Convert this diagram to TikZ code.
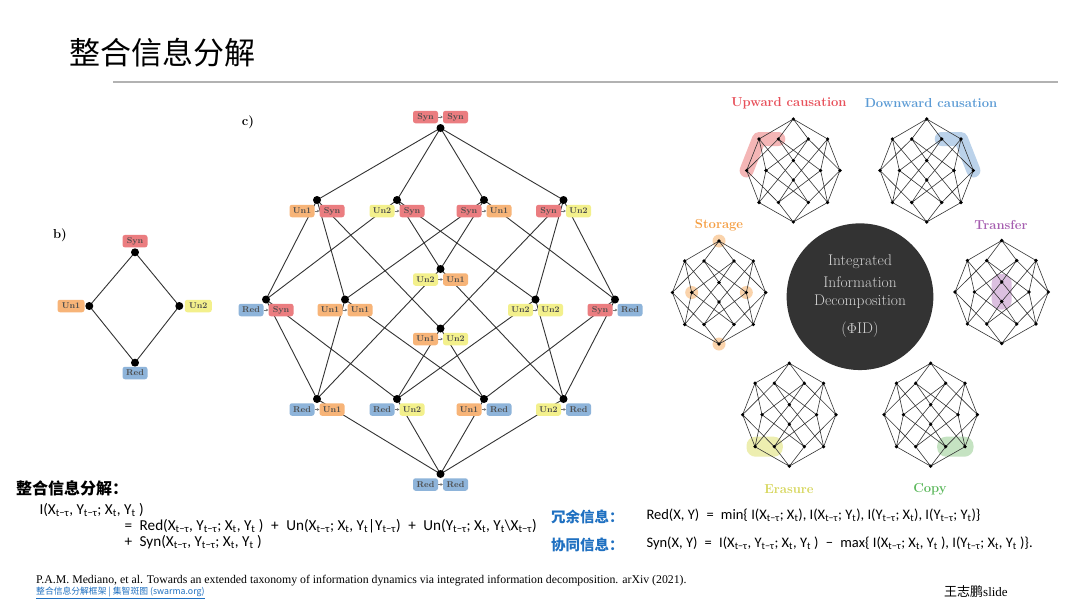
\documentclass[tikz,border=0pt]{standalone}
\usepackage{fontspec}
\usetikzlibrary{arrows.meta,calc}
\newfontfamily\cjk{Noto Sans CJK SC}
\newfontfamily\fml{Carlito}
\newfontfamily\tnr{Liberation Serif}
\definecolor{synC}{HTML}{EB7D80}
\definecolor{unaC}{HTML}{F7B478}
\definecolor{unbC}{HTML}{F3F08C}
\definecolor{redC}{HTML}{8EB4DA}
\definecolor{upC}{HTML}{E8505A}
\definecolor{dnC}{HTML}{5B9BD5}
\definecolor{stC}{HTML}{F59E42}
\definecolor{trC}{HTML}{A65EB0}
\definecolor{erC}{HTML}{D6D65A}
\definecolor{cpC}{HTML}{5CB85C}
\definecolor{hlUp}{HTML}{F4B6B6}
\definecolor{hlDn}{HTML}{BBD2EA}
\definecolor{hlSt}{HTML}{FAD3AB}
\definecolor{hlTr}{HTML}{DCC0E0}
\definecolor{hlEr}{HTML}{EDEEB0}
\definecolor{hlCp}{HTML}{C5E3C2}
\definecolor{cnBlue}{HTML}{1F70C1}
\newcommand\sub[1]{\textsubscript{#1}}
\tikzset{
  edge/.style={draw=black!80, line width=0.9pt},
  sedge/.style={draw=black!80, line width=0.6pt},
  bdot/.style={circle, fill=black, inner sep=0pt, minimum size=8pt},
  sdot/.style={circle, fill=black, inner sep=0pt, minimum size=3.6pt},
  pbox/.style={rounded corners=2.5pt, inner sep=0pt, minimum width=25pt, minimum height=12.5pt, font=\fontsize{8.5}{9}\selectfont\bfseries, text=black!70},
  synb/.style={pbox, fill=synC},
  unab/.style={pbox, fill=unaC},
  unbb/.style={pbox, fill=unbC},
  redb/.style={pbox, fill=redC},
  parr/.style={-{Stealth[length=2.4pt,width=2.8pt]}, draw=black!55, line width=0.5pt},
  catlab/.style={font=\fontsize{13}{15}\selectfont\bfseries},
  ctext/.style={font=\fontsize{15.5}{17}\selectfont, text=black!18},
  hlline/.style={line cap=round, line join=round},
  fm/.style={anchor=base west, font=\fml\fontsize{15.2}{17}\selectfont},
  fmr/.style={anchor=base west, font=\fml\fontsize{14.5}{16}\selectfont},
}
\newcommand\plab[7]{%
  \node[#4] (#1a) at ({#2-15},#3) {#5};
  \node[#6] (#1b) at ({#2+15},#3) {#7};
  \draw[parr] (#1a.east) -- (#1b.west);}
\newcommand\smallcoords[3]{%
  \coordinate (#1SS) at (#2,#3-51.5);
  \coordinate (#1AS) at (#2-34.3,#3-31.5);
  \coordinate (#1BS) at (#2-15,#3-31.5);
  \coordinate (#1SA) at (#2+15,#3-31.5);
  \coordinate (#1SB) at (#2+34.3,#3-31.5);
  \coordinate (#1BA) at (#2,#3-10);
  \coordinate (#1RS) at (#2-46.7,#3);
  \coordinate (#1AA) at (#2-27.3,#3);
  \coordinate (#1BB) at (#2+27.3,#3);
  \coordinate (#1SR) at (#2+46.7,#3);
  \coordinate (#1AB) at (#2,#3+9.5);
  \coordinate (#1RA) at (#2-34.3,#3+32);
  \coordinate (#1RB) at (#2-15,#3+32);
  \coordinate (#1AR) at (#2+15,#3+32);
  \coordinate (#1BR) at (#2+34.3,#3+32);
  \coordinate (#1RR) at (#2,#3+51.5);}
\newcommand\latedges[2]{%
  \draw[#2] (#1SS)--(#1AS) (#1SS)--(#1BS) (#1SS)--(#1SA) (#1SS)--(#1SB)
    (#1AS)--(#1RS) (#1AS)--(#1AA) (#1AS)--(#1AB)
    (#1BS)--(#1RS) (#1BS)--(#1BA) (#1BS)--(#1BB)
    (#1SA)--(#1SR) (#1SA)--(#1AA) (#1SA)--(#1BA)
    (#1SB)--(#1SR) (#1SB)--(#1AB) (#1SB)--(#1BB)
    (#1RS)--(#1RA) (#1RS)--(#1RB)
    (#1AA)--(#1RA) (#1AA)--(#1AR)
    (#1AB)--(#1RB) (#1AB)--(#1AR)
    (#1BA)--(#1RA) (#1BA)--(#1BR)
    (#1BB)--(#1RB) (#1BB)--(#1BR)
    (#1SR)--(#1AR) (#1SR)--(#1BR)
    (#1RA)--(#1RR) (#1RB)--(#1RR) (#1AR)--(#1RR) (#1BR)--(#1RR);}
\newcommand\latdots[2]{%
  \foreach \n in {SS,AS,BS,SA,SB,BA,RS,AA,BB,SR,AB,RA,RB,AR,BR,RR}
    \node[#2] (d#1\n) at (#1\n) {};}
\begin{document}
\begin{tikzpicture}[x=1pt,y=-1pt]
\useasboundingbox (0,0) rectangle (1080,608);
\fill[white] (0,0) rectangle (1080,608);

% title
\node[anchor=west, font=\cjk\fontsize{31}{34}\selectfont, inner sep=0pt] (title) at (69,53) {整合信息分解};
\draw[black!30, line width=1.2pt] (113,82) -- (1058,82);

% ---------- b) lattice
\node[font=\fontsize{13}{15}\selectfont\bfseries, inner sep=0pt] (blab) at (60,235) {b)};
\coordinate (bS) at (135,252.3);
\coordinate (bA) at (89.3,306);
\coordinate (bB) at (179.3,306);
\coordinate (bR) at (135,362.7);
\draw[edge] (bS) -- (bA) -- (bR) -- (bB) -- (bS);
\foreach \n in {S,A,B,R} \node[bdot] (db\n) at (b\n) {};
\node[synb] (bSl) at (135,241.2) {Syn};
\node[unab, minimum width=27pt] (bAl) at (71,306) {Un1};
\node[unbb, minimum width=27pt] (bBl) at (198.3,306) {Un2};
\node[redb] (bRl) at (135,373) {Red};

% ---------- c) lattice
\node[font=\fontsize{13}{15}\selectfont\bfseries, inner sep=0pt] (clab) at (248,122) {c)};
\coordinate (cSS) at (440.5,128);
\coordinate (cAS) at (317,200);
\coordinate (cBS) at (397,200);
\coordinate (cSA) at (484,200);
\coordinate (cSB) at (563.5,200);
\coordinate (cBA) at (440.5,269);
\coordinate (cRS) at (266,299.5);
\coordinate (cAA) at (345,299.5);
\coordinate (cBB) at (535.5,299.5);
\coordinate (cSR) at (615,299.5);
\coordinate (cAB) at (440.5,328.5);
\coordinate (cRA) at (317,399);
\coordinate (cRB) at (397,399);
\coordinate (cAR) at (484,399);
\coordinate (cBR) at (563.5,399);
\coordinate (cRR) at (440.5,474);
\latedges{c}{edge}
\latdots{c}{bdot}
\plab{lSS}{440.5}{117}{synb}{Syn}{synb}{Syn}
\plab{lAS}{317}{211}{unab}{Un1}{synb}{Syn}
\plab{lBS}{397}{211}{unbb}{Un2}{synb}{Syn}
\plab{lSA}{484}{211}{synb}{Syn}{unab}{Un1}
\plab{lSB}{563.5}{211}{synb}{Syn}{unbb}{Un2}
\plab{lBA}{440.5}{279.5}{unbb}{Un2}{unab}{Un1}
\plab{lRS}{266}{310}{redb}{Red}{synb}{Syn}
\plab{lAA}{345}{310}{unab}{Un1}{unab}{Un1}
\plab{lBB}{535.5}{310}{unbb}{Un2}{unbb}{Un2}
\plab{lSR}{615}{310}{synb}{Syn}{redb}{Red}
\plab{lAB}{440.5}{339}{unab}{Un1}{unbb}{Un2}
\plab{lRA}{317}{409.5}{redb}{Red}{unab}{Un1}
\plab{lRB}{397}{409.5}{redb}{Red}{unbb}{Un2}
\plab{lAR}{484}{409.5}{unab}{Un1}{redb}{Red}
\plab{lBR}{563.5}{409.5}{unbb}{Un2}{redb}{Red}
\plab{lRR}{440.5}{484.5}{redb}{Red}{redb}{Red}

% ---------- right panel
\node[circle, fill=black!80, minimum size=146.7pt, inner sep=0pt] (phi) at (860,296.7) {};
\node[ctext] (p1) at (860,262) {Integrated};
\node[ctext] (p2) at (860,282) {Information};
\node[ctext] (p3) at (860,302) {Decomposition};
\node[ctext] (p4) at (860,330) {($\Phi$ID)};

% upward causation
\smallcoords{u}{793.3}{170.5}
\draw[hlline, hlUp, line width=14pt] (uRS) -- (uAS) -- (uBS);
\latedges{u}{sedge}
\latdots{u}{sdot}
\node[catlab, text=upC] (lup) at (789,103) {Upward causation};

% downward causation
\smallcoords{w}{926.7}{170.5}
\draw[hlline, hlDn, line width=14pt] (wSR) -- (wSB) -- (wSA);
\latedges{w}{sedge}
\latdots{w}{sdot}
\node[catlab, text=dnC] (ldn) at (931,103) {Downward causation};

% storage
\smallcoords{s}{719}{292.5}
\foreach \n in {SS,AA,BB,RR} \fill[hlSt] (s\n) circle (6.5pt);
\latedges{s}{sedge}
\latdots{s}{sdot}
\node[catlab, text=stC] (lst) at (719,225) {Storage};

% transfer
\smallcoords{t}{1001.7}{292}
\fill[hlTr, rounded corners=9pt] ($(tBA)+(-10,-8)$) rectangle ($(tAB)+(10,8)$);
\latedges{t}{sedge}
\latdots{t}{sdot}
\node[catlab, text=trC] (ltr) at (1001,225) {Transfer};

% erasure
\smallcoords{e}{789.3}{414.7}
\fill[hlEr, rounded corners=9pt] ($(eRA)+(-8.5,-10)$) rectangle ($(eRB)+(8.5,10)$);
\latedges{e}{sedge}
\latdots{e}{sdot}
\node[catlab, text=erC] (ler) at (789,489) {Erasure};

% copy
\smallcoords{k}{930.7}{414.7}
\fill[hlCp, rounded corners=9pt] ($(kAR)+(-8.5,-10)$) rectangle ($(kBR)+(8.5,10)$);
\latedges{k}{sedge}
\latdots{k}{sdot}
\node[catlab, text=cpC] (lcp) at (930,489) {Copy};

% ---------- formulas
\node[anchor=west, font=\cjk\bfseries\fontsize{16}{18}\selectfont, inner sep=0pt] (zh) at (16,488) {整合信息分解：};
\node[fm] (f1) at (36,514) {I(X\sub{t−τ}, Y\sub{t−τ}; X\sub{t}, Y\sub{t} )};
\node[fm] (f2) at (121,530) {=\enspace Red(X\sub{t−τ}, Y\sub{t−τ}; X\sub{t}, Y\sub{t} )\enspace +\enspace Un(X\sub{t−τ}; X\sub{t}, Y\sub{t}|Y\sub{t−τ})\enspace +\enspace Un(Y\sub{t−τ}; X\sub{t}, Y\sub{t}\textbackslash X\sub{t−τ})};
\node[fm] (f3) at (121,546) {+\enspace Syn(X\sub{t−τ}, Y\sub{t−τ}; X\sub{t}, Y\sub{t} )};

\node[anchor=west, font=\cjk\bfseries\fontsize{14.5}{16}\selectfont, text=cnBlue, inner sep=0pt] (zr) at (551,517) {冗余信息：};
\node[anchor=west, font=\cjk\bfseries\fontsize{14.5}{16}\selectfont, text=cnBlue, inner sep=0pt] (zs) at (551,545) {协同信息：};
\node[fmr] (r1) at (643,519) {Red(X, Y)\enspace =\enspace min\{ I(X\sub{t−τ}; X\sub{t}), I(X\sub{t−τ}; Y\sub{t}), I(Y\sub{t−τ}; X\sub{t}), I(Y\sub{t−τ}; Y\sub{t})\}};
\node[fmr] (r2) at (643,547.5) {Syn(X, Y)\enspace =\enspace I(X\sub{t−τ}, Y\sub{t−τ}; X\sub{t}, Y\sub{t} )\enspace −\enspace max\{ I(X\sub{t−τ}; X\sub{t}, Y\sub{t} ), I(Y\sub{t−τ}; X\sub{t}, Y\sub{t} )\}.};

% ---------- citation
\node[anchor=base west, font=\tnr\fontsize{11.8}{13}\selectfont, inner sep=0pt] (cite) at (36,583) {P.A.M. Mediano, et al. Towards an extended taxonomy of information dynamics via integrated information decomposition. arXiv (2021).};
\node[anchor=base west, font=\cjk\fontsize{8.8}{10}\selectfont, text=cnBlue, inner sep=0pt] (link) at (36,594) {\underline{整合信息分解框架 | 集智斑图 (swarma.org)}};
\node[anchor=base west, font=\fontsize{13}{15}\selectfont, inner sep=0pt] (auth) at (944,596) {\cjk 王志鹏\tnr slide};
\end{tikzpicture}
\end{document}
